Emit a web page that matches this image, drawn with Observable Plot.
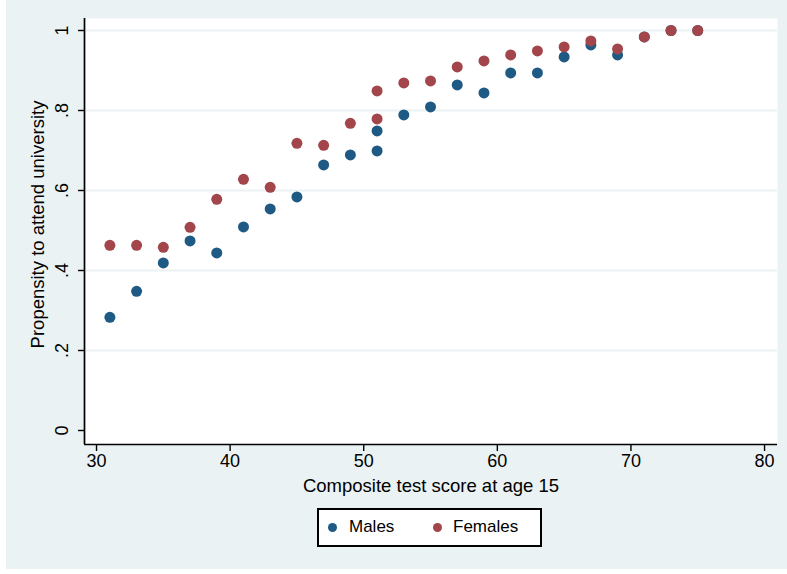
<!DOCTYPE html>
<html>
<head>
<meta charset="utf-8">
<script src="https://cdn.jsdelivr.net/npm/d3@7"></script>
<script src="https://cdn.jsdelivr.net/npm/@observablehq/plot@0.6"></script>
<style>
  html, body { margin: 0; padding: 0; background: #ffffff; }
  #page { position: relative; width: 787px; height: 574px; font-family: "Liberation Sans", Arial, Helvetica, sans-serif; }
  #bg { position: absolute; left: 6px; top: 0; width: 781px; height: 569px; background: #eaf2f3; }
  #chart { position: absolute; left: 0; top: 0; }
  #legend { position: absolute; left: 317px; top: 508px; width: 221px; height: 35px; border: 2px solid #000; background: #fff;
            font-size: 17px; color: #000; }
  .item { position: absolute; top: 7px; line-height: 20px; }
  .dot { position: absolute; width: 9px; height: 9px; border-radius: 50%; }
</style>
</head>
<body>
<div id="page">
  <div id="bg"></div>
  <div id="chart"></div>
  <div id="legend"></div>
</div>
<script>
const scores = [31,33,35,37,39,41,43,45,47,49,51,51,53,55,57,59,61,63,65,67,69,71,73,75];
const males   = [0.283,0.348,0.419,0.474,0.444,0.509,0.554,0.584,0.664,0.689,0.699,0.749,0.789,0.809,0.864,0.844,0.894,0.894,0.934,0.964,0.939,0.984,1.0,1.0];
const females = [0.463,0.463,0.458,0.508,0.578,0.628,0.608,0.718,0.713,0.768,0.779,0.849,0.869,0.874,0.909,0.924,0.939,0.949,0.959,0.974,0.954,0.984,1.0,1.0];
const seriesNames = ["Males", "Females"];
const seriesColors = ["#1f5a85", "#a3464b"];
const xTicks = [30,40,50,60,70,80];
const yTicks = [0,0.2,0.4,0.6,0.8,1];
const yTickLabels = ["0",".2",".4",".6",".8","1"];
const gridTicks = [0.2,0.4,0.6,0.8,1];
const xDomain = [29.1, 80.97];
const yDomain = [-0.035, 1.03];
const xTitle = "Composite test score at age 15";
const yTitle = "Propensity to attend university";

const data = [];
scores.forEach((s, i) => {
  data.push({score: s, value: males[i], group: seriesNames[0]});
});
scores.forEach((s, i) => {
  data.push({score: s, value: females[i], group: seriesNames[1]});
});

const fmtY = d => {
  const i = yTicks.findIndex(t => Math.abs(t - d) < 1e-9);
  return i >= 0 ? yTickLabels[i] : "";
};

const chart = Plot.plot({
  width: 787,
  height: 500,
  marginLeft: 84,
  marginRight: 10,
  marginTop: 18,
  marginBottom: 56,
  style: { background: "transparent", fontFamily: "'Liberation Sans', Arial, Helvetica, sans-serif", fontSize: "18px", color: "#000" },
  x: { domain: xDomain },
  y: { domain: yDomain },
  color: { domain: seriesNames, range: seriesColors },
  marks: [
    Plot.frame({ fill: "#ffffff", stroke: null }),
    Plot.gridY(gridTicks, { stroke: "#eaf2f3", strokeOpacity: 1, strokeWidth: 2 }),
    Plot.ruleX([xDomain[0]], { stroke: "#000", strokeWidth: 1.7 }),
    Plot.ruleY([yDomain[0]], { stroke: "#000", strokeWidth: 1.7 }),
    Plot.axisX({ ticks: xTicks, tickSize: 7, tickPadding: 3, fontSize: 18, label: null, strokeWidth: 1.4 }),
    Plot.axisY({ ticks: yTicks, tickFormat: fmtY, tickSize: 6, tickRotate: -90, tickPadding: 11, fontSize: 18, label: null, strokeWidth: 1.4 }),
    Plot.text([xTitle], { frameAnchor: "bottom", dy: 47, fontSize: 18.5, fill: "#000" }),
    Plot.text([yTitle], { frameAnchor: "left", textAnchor: "middle", lineAnchor: "middle", rotate: -90, dx: -46, dy: -7, fontSize: 18.5, fill: "#000" }),
    Plot.dot(data, { x: "score", y: "value", fill: "group", r: 5.5, stroke: null })
  ]
});
document.getElementById("chart").appendChild(chart);

const legend = document.getElementById("legend");
const positions = [[9, 30], [113.5, 134]];
seriesNames.forEach((name, i) => {
  const dot = document.createElement("div");
  dot.className = "dot";
  dot.style.left = positions[i][0] + "px";
  dot.style.top = "13px";
  dot.style.background = seriesColors[i];
  legend.appendChild(dot);
  const t = document.createElement("div");
  t.className = "item";
  t.style.left = positions[i][1] + "px";
  t.textContent = name;
  legend.appendChild(t);
});
</script>
</body>
</html>
